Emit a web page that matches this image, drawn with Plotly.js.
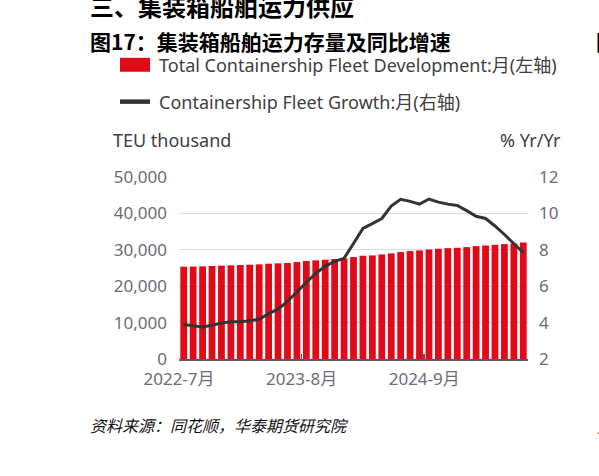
<!DOCTYPE html>
<html>
<head>
<meta charset="utf-8">
<script src="https://cdn.plot.ly/plotly-3.0.1.min.js"></script>
<style>html,body{margin:0;padding:0;background:#fff;}#chart{width:599px;height:476px;}</style>
</head>
<body>
<div id="chart"></div>
<script>
// Months: 2022-7 .. 2025-7 (37 months)
const months = ["2022-7","2022-8","2022-9","2022-10","2022-11","2022-12",
  "2023-1","2023-2","2023-3","2023-4","2023-5","2023-6","2023-7","2023-8","2023-9","2023-10","2023-11","2023-12",
  "2024-1","2024-2","2024-3","2024-4","2024-5","2024-6","2024-7","2024-8","2024-9","2024-10","2024-11","2024-12",
  "2025-1","2025-2","2025-3","2025-4","2025-5","2025-6","2025-7"];
// Total containership fleet (TEU thousand), left axis
const fleetTEU = [25360,25400,25460,25550,25640,25730,25820,25910,26000,26180,26280,26370,26640,26910,27100,27280,27460,27640,
  28000,28370,28460,28730,29010,29370,29650,29830,30100,30280,30460,30560,30740,31010,31190,31380,31560,31740,32010];
// Fleet growth % Yr/Yr, right axis
const growthPct = [3.89,3.83,3.76,3.85,3.98,4.05,4.05,4.10,4.18,4.49,4.74,5.16,5.71,6.20,6.71,7.09,7.37,7.53,
  8.35,9.17,9.44,9.72,10.40,10.77,10.66,10.51,10.79,10.62,10.51,10.44,10.15,9.84,9.72,9.31,8.84,8.35,7.84];
const tickLabels = ["2022-7月","2023-8月","2024-9月",""];
const tickPos = [-0.5,12.5,25.5,36.5];

const xIdx = months.map((m,i)=>i);
const FONT = "'Noto Sans', 'Noto Sans CJK SC', sans-serif";
const CJK = "'Noto Sans CJK SC', sans-serif";

// plot area in pixels: x 179..528, y 176.7..359.5
const L=179, R=528, T=176.7, B=359.5;
const px = x => (x-L)/(R-L);
const py = y => (B-y)/(B-T);

const traces = [
  {type:'bar', x:xIdx, y:fleetTEU, marker:{color:'#E00A18'}, width:0.72, yaxis:'y', showlegend:false, hoverinfo:'skip'},
  {type:'scatter', mode:'lines', x:xIdx, y:growthPct, yaxis:'y2', line:{color:'#333333', width:3}, showlegend:false, hoverinfo:'skip'}
];

const ann = (text, x, y, opts) => Object.assign({text, xref:'paper', yref:'paper', x:px(x), y:py(y), showarrow:false, xanchor:'left', yanchor:'middle', font:{family:FONT, size:18, color:'#404040'}}, opts||{});

const layout = {
  width:599, height:476,
  margin:{l:L, r:599-R, t:T, b:476-B, pad:0},
  paper_bgcolor:'#fff', plot_bgcolor:'#fff',
  xaxis:{range:[-0.5,36.5], tickmode:'array', tickvals:tickPos, ticktext:tickLabels, ticks:'inside', ticklen:5, tickwidth:1.5, tickcolor:'#595959',
    showline:true, linecolor:'#595959', linewidth:1.5, showgrid:false, zeroline:false,
    tickfont:{family:FONT, size:17, color:'#6b6b78'}, ticklabelstandoff:4, fixedrange:true},
  yaxis:{range:[0,50000], dtick:10000, tickformat:',', showgrid:true, gridcolor:'#D8DCE8', gridwidth:1, zeroline:false, showline:false, ticks:'',
    tickfont:{family:FONT, size:17, color:'#6b6b78'}, ticklabelstandoff:11},
  yaxis2:{range:[2,12], dtick:2, overlaying:'y', side:'right', showgrid:false, zeroline:false, showline:false, ticks:'',
    tickfont:{family:FONT, size:17, color:'#6b6b78'}, ticklabelstandoff:10},
  shapes:[
    {type:'rect', xref:'paper', yref:'paper', x0:px(120), x1:px(150), y0:py(57), y1:py(71), fillcolor:'#E00A18', line:{width:0}},
    {type:'line', xref:'paper', yref:'paper', x0:px(120), x1:px(150), y0:py(101), y1:py(101), line:{color:'#333333', width:4.5}}
  ],
  annotations:[
    ann('<b>三、集装箱船舶运力供应</b>', 88, 4, {font:{family:CJK, size:24, color:'#000'}}),
    ann('<b>图17：集装箱船舶运力存量及同比增速</b>', 88, 40, {font:{family:CJK, size:21, color:'#000'}}),
    ann('<b>图18</b>', 594, 40, {font:{family:CJK, size:21, color:'#000'}}),
    ann('Total Containership Fleet Development:月(左轴)', 157, 64),
    ann('Containership Fleet Growth:月(右轴)', 157, 101),
    ann('TEU thousand', 111, 140),
    ann('% Yr/Yr', 563, 140, {xanchor:'right'}),
    ann('<i>资料来源：同花顺，华泰期货研究院</i>', 88, 426, {font:{family:CJK, size:16, color:'#111'}}),
    ann('<i>注</i>', 595, 428, {font:{family:CJK, size:14, color:'#111'}})
  ]
};
Plotly.newPlot('chart', traces, layout, {staticPlot:true, displayModeBar:false});
</script>
</body>
</html>
